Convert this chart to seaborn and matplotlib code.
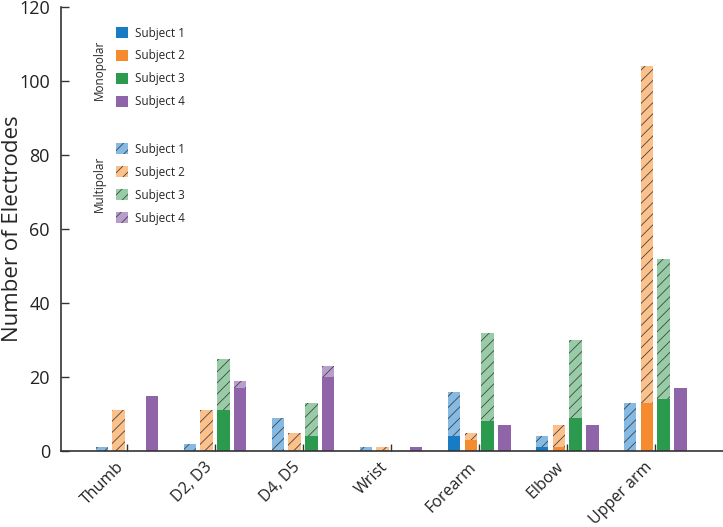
import pandas as pd
import matplotlib
matplotlib.use("Agg")
import matplotlib.pyplot as plt
import seaborn as sns
from matplotlib.patches import Patch

# values
regions = ["Thumb", "D2, D3", "D4, D5", "Wrist", "Forearm", "Elbow", "Upper arm"]
subjects = ["Subject 1", "Subject 2", "Subject 3", "Subject 4"]

mono_s1 = [0, 0, 0, 0, 4, 1, 0]
mono_s2 = [0, 0, 0, 0, 3, 1, 13]
mono_s3 = [0, 11, 4, 0, 8, 9, 14]
mono_s4 = [15, 17, 20, 1, 7, 7, 17]

multi_s1 = [1, 2, 9, 1, 12, 3, 13]
multi_s2 = [11, 11, 5, 1, 2, 6, 91]
multi_s3 = [0, 14, 9, 0, 24, 21, 38]
multi_s4 = [0, 2, 3, 0, 0, 0, 0]

dark_colors = ["#1a7bc5", "#f58a2f", "#2b9a4e", "#8f64a9"]
light_colors = ["#84bae4", "#fcc08a", "#98cca7", "#b79ecd"]

rows = []
for subj, mono, multi in zip(subjects,
                             [mono_s1, mono_s2, mono_s3, mono_s4],
                             [multi_s1, multi_s2, multi_s3, multi_s4]):
    for reg, m, mu in zip(regions, mono, multi):
        rows.append({"Region": reg, "Subject": subj, "Mono": m, "Total": m + mu})
df = pd.DataFrame(rows)

sns.set_style("white")
plt.rcParams["font.family"] = ["Open Sans", "DejaVu Sans"]
plt.rcParams["hatch.linewidth"] = 0.6

fig = plt.figure(figsize=(7.23, 5.27), dpi=100)
# axes box: x 61..723 px, y 7..451 px
ax = fig.add_axes([61 / 723, 76 / 527, 662 / 723, 444 / 527])

# multipolar part (stacked on top) drawn as totals first, hatched
sns.barplot(data=df, x="Region", y="Total", hue="Subject", order=regions,
            hue_order=subjects, palette=light_colors, width=0.76, gap=0.25,
            saturation=1, ax=ax, legend=False, edgecolor="#444444", linewidth=0)
for p in ax.patches:
    p.set_hatch("///")

# monopolar part at the bottom
sns.barplot(data=df, x="Region", y="Mono", hue="Subject", order=regions,
            hue_order=subjects, palette=dark_colors, width=0.76, gap=0.25,
            saturation=1, ax=ax, legend=False, edgecolor="none", linewidth=0)

ax.set_xlim(-0.75, 6.77)
ax.set_ylim(0, 120)
ax.set_yticks([0, 20, 40, 60, 80, 100, 120])
ax.set_xlabel("")
ax.set_ylabel("Number of Electrodes", fontsize=16)
ax.yaxis.set_label_coords(-0.058, 0.5)
ax.tick_params(axis="y", direction="in", length=6, width=1, colors="#333333",
               labelsize=13, labelcolor="#222222", left=True, pad=8)
ax.tick_params(axis="x", direction="in", length=5, width=1, colors="#333333",
               labelsize=11.5, labelcolor="#222222", bottom=True, pad=6)
for lab in ax.get_xticklabels():
    lab.set_rotation(45)
    lab.set_ha("right")
    lab.set_va("top")
sns.despine(ax=ax)
for s in ["left", "bottom"]:
    ax.spines[s].set_color("#333333")
    ax.spines[s].set_linewidth(1.2)

# legends
mono_handles = [Patch(facecolor=c, edgecolor="none", label=s)
                for c, s in zip(dark_colors, subjects)]
multi_handles = [Patch(facecolor=c, edgecolor="#444444", linewidth=0,
                       hatch="///", label=s)
                 for c, s in zip(light_colors, subjects)]
leg_kw = dict(loc="upper left", frameon=False, fontsize=8.5,
              handlelength=1.05, handleheight=1.02, labelspacing=0.84,
              handletextpad=0.55)
leg1 = ax.legend(handles=mono_handles, bbox_to_anchor=(0.0665, 0.980), **leg_kw)
ax.add_artist(leg1)
ax.legend(handles=multi_handles, bbox_to_anchor=(0.0665, 0.718), **leg_kw)

fig.text(99 / 723, 1 - 70 / 527, "Monopolar", rotation=90, ha="center",
         va="center", fontsize=8.5)
fig.text(99 / 723, 1 - 184 / 527, "Multipolar", rotation=90, ha="center",
         va="center", fontsize=8.5)

fig.savefig("out.png", dpi=100)
